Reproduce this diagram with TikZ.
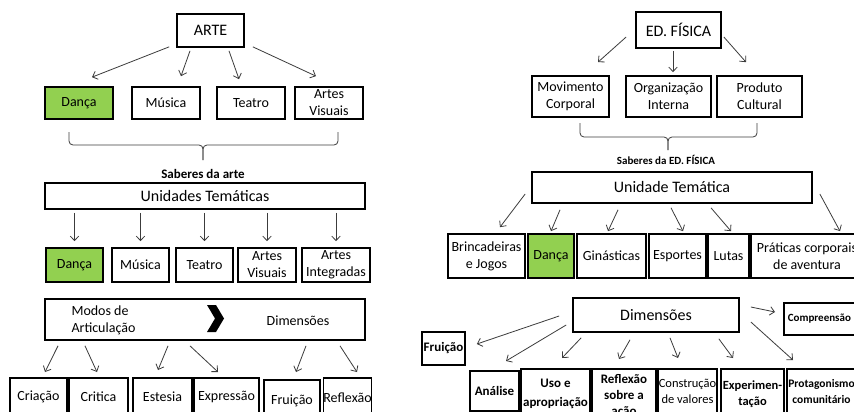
\documentclass[tikz,border=0pt]{standalone}
\usepackage{fontspec}
\setmainfont{Carlito}
\usetikzlibrary{arrows.meta}
\definecolor{ink}{HTML}{3C3C3C}
\definecolor{leaf}{HTML}{92D050}

\begin{document}
\begin{tikzpicture}[x=1pt,y=-1pt,
 font=\fontsize{14}{17}\selectfont,
 box/.style={draw=black,line width=1.7pt,align=center,inner sep=0pt},
 big/.style={font=\fontsize{16}{19}\selectfont},
 tag/.style={font=\bfseries\fontsize{13}{16}\selectfont},
 tiny/.style={font=\bfseries\fontsize{11}{14}\selectfont},
 arr/.style={-{Straight Barb[length=4.5pt,width=8.5pt]},draw=ink,line width=.8pt},
 brace/.style={draw=ink,line width=.8pt,rounded corners=4pt}]
\path[use as bounding box] (0,0) rectangle (854,412);
\clip (0,0) rectangle (854,412);
\fill[white] (0,0) rectangle (854,412);

% left: arte
\node[box,big,minimum width=67pt,minimum height=33pt] (arte) at (210.5,30.5) {ARTE};
\foreach \n/\x/\f/\txt in {danca1/79/leaf/Dança,musica1/166/white/Música,
 teatro1/251/white/Teatro,visuais1/329/white/{Artes\\Visuais}}{
 \node[box,fill=\f,minimum width=68pt,minimum height=32pt] (\n) at (\x,103) {\txt};
}
\draw[arr] ([shift={(-7,-1)}]arte.south west) -- ([shift={(13,-9)}]danca1.north);
\draw[arr] ([shift={(-20.5,3)}]arte.south) -- ([shift={(15,-10)}]musica1.north);
\draw[arr] ([shift={(18.5,3)}]arte.south) -- ([shift={(-12,-7)}]teatro1.north);
\draw[arr] ([shift={(8,-1)}]arte.south east) -- ([shift={(-13,-10)}]visuais1.north);
\draw[brace] (69,132) |- (203,145) -- (203,160);
\draw[brace] (338,132) |- (203,145) -- (203,160);
\node[tag] (sabA) at (203,174) {Saberes da arte};
\node[box,big,minimum width=320pt,minimum height=26pt] (ut) at (205,196) {Unidades Temáticas};
\foreach \n/\x/\w/\f/\txt in {danca2/74.5/57/leaf/Dança,musica2/140.5/57/white/Música,
 teatro2/204.5/57/white/Teatro,visuais2/267/58/white/{Artes\\Visuais},
 integradas/336/68/white/{Artes\\Integradas}}{
 \node[box,fill=\f,minimum width=\w pt,minimum height=34pt] (\n) at (\x,265) {\txt};
 \draw[arr] ([yshift=-3pt]ut.south -| \n.north) -- ([yshift=6pt]\n.north);
}
\node[box,minimum width=320pt,minimum height=41pt] (modos) at (205,319.5) {};
\node[anchor=west,align=left] (modosTxt) at (68,320.5) {Modos de\\Articulação};
\fill (207,305) -- (216,305) -- (224,318.5) -- (216,332) -- (207,332) -- (215,318.5) -- cycle;
\node (dimA) at (298,321) {Dimensões};
\foreach \n/\x/\y/\w/\h/\txt in {criacao/38.5/377/57/38/Criação,critica/98.5/377/59/38/Critica,
 estesia/162.5/377/59/38/Estesia,expressao/226.5/377/65/38/Expressão,
 fruicaoA/292/379/56/42/Fruição,reflexao/347.5/377/45/40/Reflexão}{
 \node[box,anchor=north,minimum width=\w pt,minimum height=\h pt] (\n) at (\x,\y) {\txt};
}
\foreach \sx/\sy/\n/\ex/\ey in {-147/5/criacao/6.5/-5,-120/5/critica/-1.5/-5,
 -37/5/estesia/-4.5/-7,-15/5/expressao/-8.5/-5,101/5/fruicaoA/4/-7,135/5/reflexao/9.5/-5}{
 \draw[arr] ([shift={(\sx,\sy)}]modos.south) -- ([shift={(\ex,\ey)}]\n.north);
}

% right: ed. fisica
\node[box,big,minimum width=85pt,minimum height=36pt] (edf) at (678.5,30) {ED. FÍSICA};
\foreach \n/\x/\w/\txt in {movimento/570.5/77/{Movimento\\Corporal},
 organizacao/668.5/85/{Organização\\Interna},produto/759.5/85/{Produto\\Cultural}}{
 \node[box,minimum width=\w pt,minimum height=41pt] (\n) at (\x,96.5) {\txt};
}
\draw[arr] ([shift={(-9,7)}]edf.west) -- ([shift={(27.5,-13)}]movimento.north);
\draw[arr] ([shift={(-5.5,2)}]edf.south) -- ([shift={(4.5,-3)}]organizacao.north);
\draw[arr] ([shift={(2,7)}]edf.east) -- ([shift={(-13.5,-13)}]produto.north);
\draw[brace] (580,123) |- (668,137) -- (668,150);
\draw[brace] (757,123) |- (668,137) -- (668,150);
\node[tiny] (sabB) at (666,160) {Saberes da ED. FÍSICA};
\node[box,big,minimum width=280pt,minimum height=31pt] (ut2) at (672,187.5) {Unidade Temática};
\foreach \n/\x/\w/\f/\txt in {brincadeiras/486.5/77/white/{Brincadeiras\\e Jogos},
 danca3/551/46/leaf/Dança,ginasticas/611.5/69/white/Ginásticas,esportes/677.5/57/white/Esportes,
 lutas/728.5/41/white/Lutas,praticas/807/112/white/{Práticas corporais\\de aventura}}{
 \node[box,fill=\f,minimum width=\w pt,minimum height=44pt] (\n) at (\x,256) {\txt};
}
\foreach \a/\sx/\sy/\n/\ex/\ey in {west/-6/6.5/brincadeiras/13.5/-6,south/-112/6/danca3/0/-2,
 south/-54/6/ginasticas/-3.5/-2,south/-1/4/esportes/5.5/-2,south/39/4/lutas/2.5/-2,
 east/7/6.5/praticas/33/-2}{
 \draw[arr] ([shift={(\sx,\sy)}]ut2.\a) -- ([shift={(\ex,\ey)}]\n.north);
}
\node[box,big,minimum width=166pt,minimum height=34pt] (dim2) at (656,315) {Dimensões};
\node[box,tiny,anchor=west,minimum height=32pt,text width=74pt,align=left,inner xsep=4pt] (compreensao) at (783,319) {Compreensão};
\node[box,tag,minimum width=43pt,minimum height=33pt] (fruicaoB) at (443.5,348.5) {Fruição};
\node[box,tag,anchor=north,minimum width=49pt,minimum height=40pt] (analise) at (494.5,370) {Análise};
\node[box,anchor=north,minimum width=69pt,minimum height=51pt,font=\bfseries\fontsize{13}{19}\selectfont] (uso) at (555.5,368) {Uso e\\apropriação};
\node[box,tag,anchor=north,minimum width=64pt,minimum height=54pt] (reflexaoB) at (624,368) {Reflexão\\sobre a\\ação};
\node[box,anchor=north,minimum width=59pt,minimum height=46pt,font=\fontsize{12.5}{16}\selectfont] (construcao) at (687.5,368) {Construção\\de valores};
\node[box,anchor=north,minimum width=63pt,minimum height=50pt,font=\bfseries\fontsize{12.5}{16}\selectfont] (experimentacao) at (752.5,368) {Experimen-\\tação};
\node[box,anchor=north,minimum width=69pt,minimum height=46pt,font=\bfseries\fontsize{11.5}{16}\selectfont] (protagonismo) at (821.5,368) {Protagonismo\\comunitário};
\draw[arr] ([shift={(-13,1)}]dim2.west) -- ([shift={(11,-4.5)}]fruicaoB.east);
\draw[arr] ([shift={(-6,10)}]dim2.west) -- ([shift={(11.5,-9)}]analise.north);
\draw[arr] ([shift={(9,5)}]dim2.south west) -- ([shift={(6.5,-10)}]uso.north);
\draw[arr] ([shift={(-26,7)}]dim2.south) -- ([shift={(-5,-9)}]reflexaoB.north);
\draw[arr] ([shift={(14,5)}]dim2.south) -- ([shift={(-9.5,-10)}]construcao.north);
\draw[arr] ([shift={(-21,6)}]dim2.south east) -- ([shift={(-19.5,-10)}]experimentacao.north);
\draw[arr] ([shift={(11,7)}]dim2.east) -- ([shift={(-28.5,-8)}]protagonismo.north);
\draw[arr] ([shift={(11,-8)}]dim2.east) -- ([shift={(-8,-7)}]compreensao.west);
\end{tikzpicture}
\end{document}
